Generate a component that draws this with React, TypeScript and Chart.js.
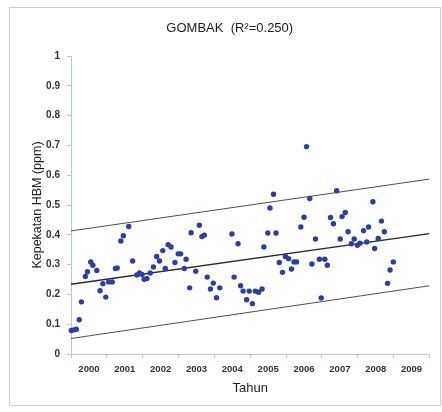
import { useEffect, useRef } from "react";
import { Chart, registerables } from "chart.js";

Chart.register(...registerables);

// Sampling time (decimal year) of each measurement
const sampleYears = [
  2000.01, 2000.08, 2000.15, 2000.23, 2000.29, 2000.4, 2000.46, 2000.55, 2000.61, 2000.72,
  2000.81, 2000.89, 2000.97, 2001.05, 2001.15, 2001.24, 2001.29, 2001.39, 2001.46, 2001.61,
  2001.72, 2001.84, 2001.91, 2001.98, 2002.04, 2002.12, 2002.21, 2002.3, 2002.39, 2002.47,
  2002.56, 2002.63, 2002.71, 2002.79, 2002.9, 2002.99, 2003.06, 2003.16, 2003.21, 2003.31,
  2003.35, 2003.48, 2003.58, 2003.65, 2003.72, 2003.8, 2003.89, 2003.97, 2004.06, 2004.15,
  2004.49, 2004.55, 2004.66, 2004.73, 2004.8, 2004.9, 2004.97, 2005.06, 2005.14, 2005.23,
  2005.33, 2005.38, 2005.49, 2005.55, 2005.65, 2005.72, 2005.81, 2005.9, 2005.98, 2006.07,
  2006.15, 2006.22, 2006.29, 2006.41, 2006.5, 2006.57, 2006.66, 2006.72, 2006.82, 2006.93,
  2006.98, 2007.08, 2007.15, 2007.24, 2007.32, 2007.41, 2007.51, 2007.56, 2007.65, 2007.73,
  2007.82, 2007.9, 2007.99, 2008.06, 2008.16, 2008.25, 2008.3, 2008.42, 2008.47, 2008.57,
  2008.66, 2008.74, 2008.83, 2008.9, 2008.99,
];

// Kepekatan HBM (ppm)
const hbmValues = [
  0.079, 0.081, 0.083, 0.115, 0.175, 0.26, 0.276, 0.309, 0.298, 0.28,
  0.212, 0.236, 0.191, 0.242, 0.242, 0.287, 0.289, 0.379, 0.397, 0.428,
  0.312, 0.265, 0.272, 0.267, 0.251, 0.253, 0.272, 0.292, 0.327, 0.312,
  0.347, 0.287, 0.367, 0.359, 0.307, 0.336, 0.336, 0.287, 0.318, 0.222,
  0.407, 0.278, 0.432, 0.394, 0.399, 0.258, 0.218, 0.238, 0.189, 0.222,
  0.403, 0.258, 0.37, 0.229, 0.211, 0.182, 0.211, 0.169, 0.211, 0.207,
  0.218, 0.359, 0.406, 0.49, 0.536, 0.406, 0.307, 0.274, 0.327, 0.32,
  0.285, 0.309, 0.309, 0.426, 0.459, 0.696, 0.522, 0.302, 0.386, 0.318,
  0.188, 0.318, 0.298, 0.458, 0.437, 0.548, 0.386, 0.461, 0.475, 0.41,
  0.37, 0.386, 0.365, 0.372, 0.414, 0.376, 0.426, 0.511, 0.354, 0.388,
  0.446, 0.41, 0.237, 0.282, 0.309,
];

// Regression line and its band (values at start and end of the axis)
const lineYears = [2000, 2010];
const trendValues = [0.234, 0.404];
const upperValues = [0.413, 0.587];
const lowerValues = [0.052, 0.229];

const yearLabels = ["2000", "2001", "2002", "2003", "2004", "2005", "2006", "2007", "2008", "2009"];

const titleText = "GOMBAK  (R\u00B2=0.250)";
const xTitle = "Tahun";
const yTitle = "Kepekatan HBM (ppm)";

const FONT = "'Liberation Sans', Arial, sans-serif";
const AXIS_COLOR = "#b8c6da";

const framePlugin = {
  id: "frame",
  beforeDraw(chart: any) {
    const { ctx, width, height } = chart;
    ctx.save();
    ctx.fillStyle = "#ffffff";
    ctx.fillRect(0, 0, width, height);
    ctx.strokeStyle = "#d2d2d2";
    ctx.lineWidth = 1;
    ctx.strokeRect(9.5, 7.5, 431, 398);
    ctx.restore();
  },
};

export default function App() {
  const canvasRef = useRef<HTMLCanvasElement | null>(null);

  useEffect(() => {
    if (!canvasRef.current) return;
    const pts = sampleYears.map((x, i) => ({ x, y: hbmValues[i] }));
    const mk = (vals: number[]) => lineYears.map((x, i) => ({ x, y: vals[i] }));
    const isInt = (v: number) => Math.abs(v - Math.round(v)) < 1e-6;

    const chart = new Chart(canvasRef.current, {
      type: "scatter",
      data: {
        datasets: [
          {
            data: pts,
            pointRadius: 2.7,
            pointBackgroundColor: "#2d3f9e",
            pointBorderWidth: 0,
            showLine: false,
            clip: false as any,
          },
          {
            data: mk(trendValues),
            showLine: true,
            pointRadius: 0,
            borderColor: "#2a2a2a",
            borderWidth: 1.4,
          },
          {
            data: mk(upperValues),
            showLine: true,
            pointRadius: 0,
            borderColor: "#505050",
            borderWidth: 1,
          },
          {
            data: mk(lowerValues),
            showLine: true,
            pointRadius: 0,
            borderColor: "#505050",
            borderWidth: 1,
          },
        ],
      },
      options: {
        animation: false,
        responsive: false,
        events: [],
        layout: { padding: { left: 30, right: 12.5, top: 8, bottom: 8 } },
        plugins: {
          legend: { display: false },
          tooltip: { enabled: false },
          title: {
            display: true,
            text: titleText,
            color: "#1e1e1e",
            font: { family: FONT, size: 13, weight: "normal" },
            padding: { top: 13, bottom: 19.4 },
          },
        },
        scales: {
          x: {
            type: "linear",
            min: 2000,
            max: 2010,
            afterFit: (s: any) => {
              s.height = 50;
            },
            ticks: {
              stepSize: 0.5,
              autoSkip: false,
              maxRotation: 0,
              padding: 6,
              color: "#333333",
              font: { family: FONT, size: 9.5, weight: "bold" },
              callback: (v: any) => {
                const n = Number(v);
                if (Math.abs(n - Math.floor(n) - 0.5) < 1e-6) {
                  return yearLabels[Math.floor(n) - 2000] ?? "";
                }
                return "";
              },
            },
            grid: {
              drawOnChartArea: false,
              drawTicks: true,
              tickLength: 4,
              color: (c: any) => (c.tick && isInt(c.tick.value) ? AXIS_COLOR : "rgba(0,0,0,0)"),
            },
            border: { display: true, color: AXIS_COLOR, width: 1 },
            title: {
              display: true,
              text: xTitle,
              color: "#1e1e1e",
              font: { family: FONT, size: 13, weight: "normal" },
              padding: { top: 5, bottom: 8 },
            },
          },
          y: {
            type: "linear",
            min: 0,
            max: 1,
            afterFit: (s: any) => {
              s.width = 41;
            },
            ticks: {
              stepSize: 0.1,
              padding: 7,
              color: "#333333",
              font: { family: FONT, size: 10, weight: "bold" },
              callback: (v: any) => String(Math.round(Number(v) * 10) / 10),
            },
            grid: {
              drawOnChartArea: false,
              drawTicks: true,
              tickLength: 4,
              color: AXIS_COLOR,
            },
            border: { display: true, color: AXIS_COLOR, width: 1 },
            title: {
              display: true,
              text: yTitle,
              color: "#1e1e1e",
              font: { family: FONT, size: 12.5, weight: "normal" },
              padding: { top: 0, bottom: 2 },
            },
          },
        },
      },
      plugins: [framePlugin],
    });
    return () => chart.destroy();
  }, []);

  return (
    <div style={{ position: "fixed", left: 0, top: 0, width: 442, height: 412 }}>
      <canvas ref={canvasRef} width={442} height={412} style={{ width: 442, height: 412, display: "block" }} />
    </div>
  );
}
